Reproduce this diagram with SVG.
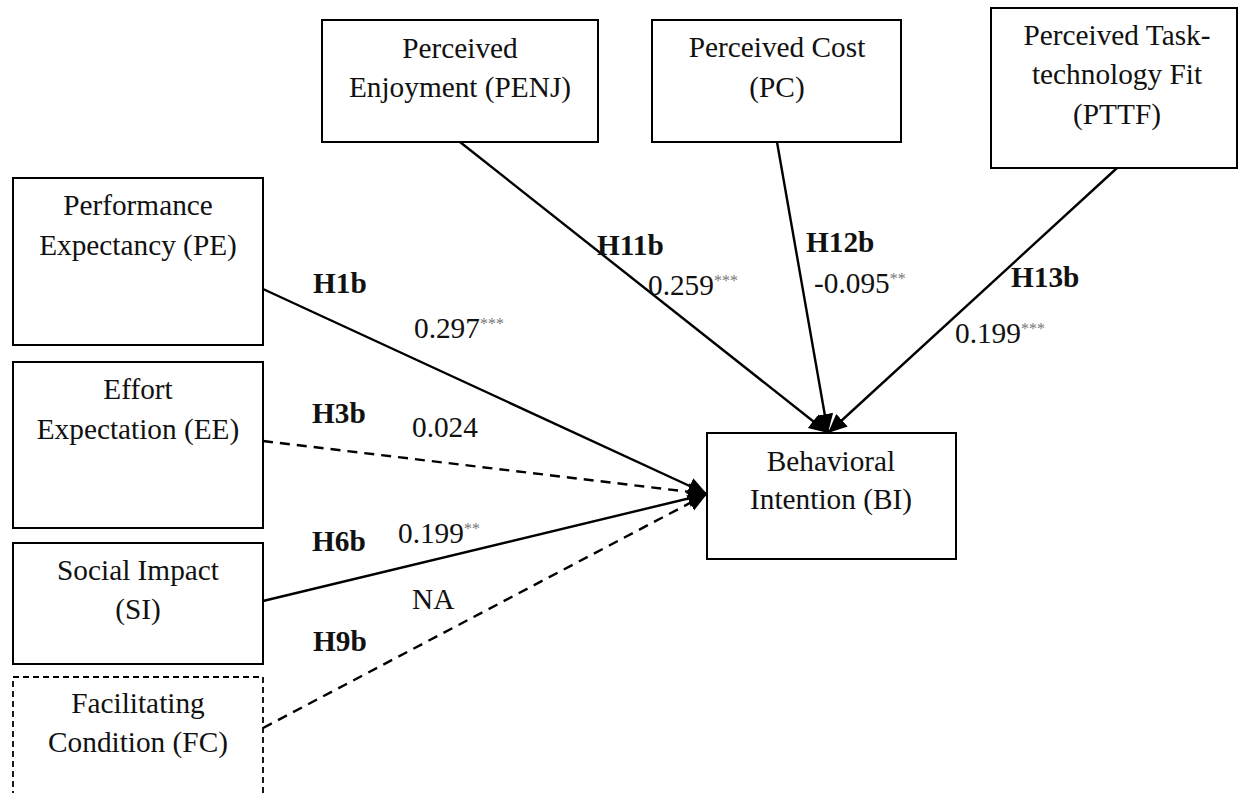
<svg xmlns="http://www.w3.org/2000/svg" width="1238" height="793" viewBox="0 0 1238 793">
<style>
  .box { fill: #fff; stroke: #000; stroke-width: 2; }
  .dbox { fill: #fff; stroke: #000; stroke-width: 1.8; stroke-dasharray: 6 4; }
  .t { font-family: "Liberation Serif", "Times New Roman", serif; font-size: 29.3px; fill: #111; text-anchor: middle; }
  .h { font-family: "Liberation Serif", "Times New Roman", serif; font-size: 29.3px; font-weight: bold; fill: #111; }
  .v { font-family: "Liberation Serif", "Times New Roman", serif; font-size: 29.3px; fill: #111; }
  .sup { font-size: 16px; fill: #777; }
  .c { stroke: #000; stroke-width: 2.4; fill: none; marker-end: url(#arr); }
  .dash { stroke-dasharray: 10 7; }
</style>
<defs>
  <marker id="arr" markerUnits="userSpaceOnUse" markerWidth="20" markerHeight="20" viewBox="0 0 20 20" refX="19" refY="10" orient="auto">
    <path d="M0,1.5 L19,10 L0,18.5 Z" fill="#000"/>
  </marker>
</defs>
<rect width="1238" height="793" fill="#fff"/>

<g id="connectors">
  <line class="c" x1="263" y1="289" x2="707" y2="494"/>
  <line class="c dash" x1="263" y1="441" x2="707" y2="494"/>
  <line class="c" x1="263" y1="601" x2="707" y2="494"/>
  <line class="c dash" x1="263" y1="728" x2="707" y2="494"/>
  <line class="c" x1="460" y1="142" x2="828" y2="433"/>
  <line class="c" x1="777" y1="142" x2="828" y2="433"/>
  <line class="c" x1="1117" y1="168" x2="828" y2="433"/>
</g>

<g id="labels">
  <text class="h" x="597" y="255">H11b</text>
  <text class="v" x="648" y="295">0.259<tspan class="sup" dy="-9">***</tspan></text>
  <text class="h" x="806" y="252">H12b</text>
  <text class="v" x="814" y="293">-0.095<tspan class="sup" dy="-9">**</tspan></text>
  <text class="h" x="1011" y="287">H13b</text>
  <text class="v" x="955" y="343">0.199<tspan class="sup" dy="-9">***</tspan></text>
  <text class="h" x="313" y="293">H1b</text>
  <text class="v" x="414" y="338">0.297<tspan class="sup" dy="-9">***</tspan></text>
  <text class="h" x="312" y="423">H3b</text>
  <text class="v" x="412" y="437">0.024</text>
  <text class="h" x="312" y="551">H6b</text>
  <text class="v" x="398" y="543">0.199<tspan class="sup" dy="-9">**</tspan></text>
  <text class="v" x="412" y="609">NA</text>
  <text class="h" x="313" y="651">H9b</text>
</g>

<g id="PENJ">
  <rect class="box" x="322" y="20" width="276" height="122"/>
  <text class="t" x="460" y="58">Perceived</text>
  <text class="t" x="460" y="97">Enjoyment (PENJ)</text>
</g>
<g id="PC">
  <rect class="box" x="652" y="20" width="249" height="122"/>
  <text class="t" x="777" y="57">Perceived Cost</text>
  <text class="t" x="777" y="97">(PC)</text>
</g>
<g id="PTTF">
  <rect class="box" x="991" y="8" width="246" height="160"/>
  <text class="t" x="1117" y="45">Perceived Task-</text>
  <text class="t" x="1117" y="84">technology Fit</text>
  <text class="t" x="1117" y="124">(PTTF)</text>
</g>
<g id="PE">
  <rect class="box" x="13" y="178" width="250" height="167"/>
  <text class="t" x="138" y="215">Performance</text>
  <text class="t" x="138" y="255">Expectancy (PE)</text>
</g>
<g id="EE">
  <rect class="box" x="13" y="362" width="250" height="166"/>
  <text class="t" x="138" y="399">Effort</text>
  <text class="t" x="138" y="439">Expectation (EE)</text>
</g>
<g id="SI">
  <rect class="box" x="13" y="543" width="250" height="121"/>
  <text class="t" x="138" y="580">Social Impact</text>
  <text class="t" x="138" y="619">(SI)</text>
</g>
<g id="FC">
  <rect class="dbox" x="13" y="677" width="250" height="140"/>
  <text class="t" x="138" y="713">Facilitating</text>
  <text class="t" x="138" y="752">Condition (FC)</text>
</g>
<g id="BI">
  <rect class="box" x="707" y="433" width="249" height="126"/>
  <text class="t" x="831" y="471">Behavioral</text>
  <text class="t" x="831" y="509">Intention (BI)</text>
</g>
</svg>
